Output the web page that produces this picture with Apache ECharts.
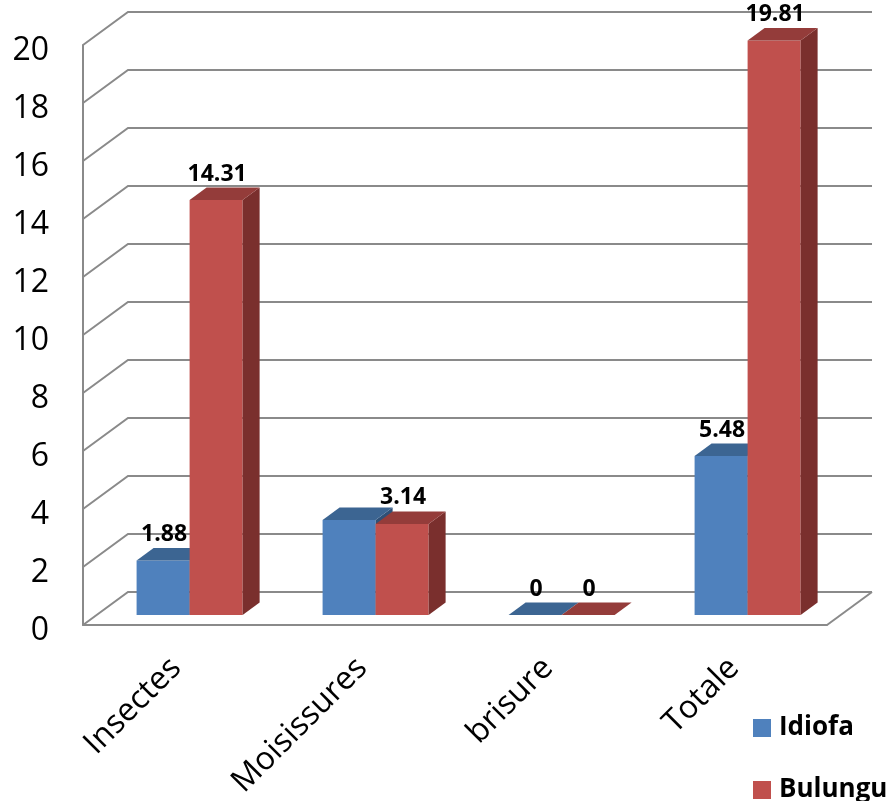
<!DOCTYPE html>
<html>
<head>
<meta charset="utf-8">
<script src="https://cdn.jsdelivr.net/npm/echarts@6/dist/echarts.min.js"></script>
<style>
  html, body { margin: 0; padding: 0; background: #fff; }
  #chart { width: 888px; height: 801px; }
</style>
</head>
<body>
<div id="chart"></div>
<script>
// Categories and values
var categories = ['Insectes', 'Moisissures', 'brisure', 'Totale'];
var seriesNames = ['Idiofa', 'Bulungu'];
var idiofa = [1.88, 3.28, 0, 5.48];
var bulungu = [14.31, 3.14, 0, 19.81];
// Idiofa's Moisissures value carries no printed label
var idiofaHiddenLabels = [1];
var yTicks = [0, 2, 4, 6, 8, 10, 12, 14, 16, 18, 20];

// Perspective of the box: full floor depth and the bars' slot inside it
var DEPTH_X = 45, DEPTH_Y = 33;
var BAR_OFF_X = 13.6, BAR_OFF_Y = 10;
var BAR_DX = 17, BAR_DY = 12.5;
var BAR_FRAC = 0.285;
var GRID_COLOR = '#8a8a8a';

var palettes = [
  { front: '#4f81bd', top: '#3c6592', side: '#2f5077' },
  { front: '#c0504d', top: '#943c3a', side: '#7a2f2d' }
];

function wallRender(params, api) {
  var cs = params.coordSys;
  var v = api.value(1);
  var y = api.coord([0, v])[1];
  var x0 = cs.x, x1 = cs.x + cs.width;
  var children = [{
    type: 'polyline',
    shape: { points: [[x0, y], [x0 + DEPTH_X, y - DEPTH_Y], [x1 + DEPTH_X, y - DEPTH_Y]] },
    style: { stroke: GRID_COLOR, lineWidth: 2, fill: null }
  }];
  if (v === 0) {
    children.push({
      type: 'line',
      shape: { x1: x1, y1: y, x2: x1 + DEPTH_X, y2: y - DEPTH_Y },
      style: { stroke: GRID_COLOR, lineWidth: 2 }
    });
  }
  return { type: 'group', children: children };
}

function makeBarRender(seriesIdx, hidden) {
  var pal = palettes[seriesIdx];
  return function (params, api) {
    var i = api.value(0);
    var v = api.value(1);
    var band = api.size([1, 0])[0];
    var w = band * BAR_FRAC;
    var cx = api.coord([i, 0])[0];
    var x0 = (seriesIdx === 0 ? cx - w : cx) + BAR_OFF_X;
    var yb = api.coord([i, 0])[1] - BAR_OFF_Y;
    var yt = api.coord([i, v])[1] - BAR_OFF_Y;
    var children = [
      {
        type: 'rect',
        shape: { x: x0, y: yt, width: w, height: yb - yt },
        style: { fill: pal.front }
      },
      {
        type: 'polygon',
        shape: { points: [[x0 + w, yt], [x0 + w + BAR_DX, yt - BAR_DY], [x0 + w + BAR_DX, yb - BAR_DY], [x0 + w, yb]] },
        style: { fill: pal.side }
      },
      {
        type: 'polygon',
        shape: { points: [[x0, yt], [x0 + BAR_DX, yt - BAR_DY], [x0 + w + BAR_DX, yt - BAR_DY], [x0 + w, yt]] },
        style: { fill: pal.top }
      }
    ];
    if (hidden.indexOf(i) < 0) {
      children.push({
        type: 'text',
        z2: 100,
        style: {
          x: x0 + w / 2 + 1,
          y: yt - 26,
          text: String(v),
          textAlign: 'center',
          textVerticalAlign: 'middle',
          fill: '#000',
          font: 'bold 23px "Open Sans", sans-serif'
        }
      });
    }
    return { type: 'group', children: children };
  };
}

var legendText = { fontFamily: 'Open Sans', fontWeight: 'bold', fontSize: 26, color: '#000', padding: [0, 0, 0, 3] };

var chart = echarts.init(document.getElementById('chart'), null, { renderer: 'canvas' });
chart.setOption({
  animation: false,
  color: [palettes[0].front, palettes[1].front],
  grid: [
    // front plane of the box
    { left: 83, right: 61, top: 45, bottom: 176, containLabel: false },
    // value labels sit a little below their gridlines
    { left: 83, right: 61, top: 51, bottom: 170, containLabel: false }
  ],
  legend: [
    {
      left: 748, top: 710, itemWidth: 18, itemHeight: 18, icon: 'rect',
      data: [seriesNames[0]], textStyle: legendText
    },
    {
      left: 748, top: 772, itemWidth: 18, itemHeight: 18, icon: 'rect',
      data: [seriesNames[1]], textStyle: legendText
    }
  ],
  xAxis: [
    {
      type: 'category',
      gridIndex: 0,
      data: categories,
      boundaryGap: true,
      axisLine: { lineStyle: { color: GRID_COLOR, width: 2 } },
      axisTick: { show: false },
      axisLabel: { rotate: 45, margin: 38, fontFamily: 'Open Sans', fontSize: 32, color: '#000', interval: 0 },
      splitLine: { show: false }
    },
    {
      type: 'category',
      gridIndex: 1,
      data: categories,
      show: false
    }
  ],
  yAxis: [
    {
      type: 'value',
      gridIndex: 0,
      min: 0,
      max: 20,
      interval: 2,
      axisLine: { show: true, lineStyle: { color: GRID_COLOR, width: 2 } },
      axisTick: { show: false },
      axisLabel: { show: false },
      splitLine: { show: false }
    },
    {
      type: 'value',
      gridIndex: 1,
      min: 0,
      max: 20,
      interval: 2,
      axisLine: { show: false },
      axisTick: { show: false },
      axisLabel: { margin: 34, fontFamily: 'Open Sans', fontSize: 32, color: '#000' },
      splitLine: { show: false }
    }
  ],
  series: [
    {
      type: 'custom',
      name: 'walls',
      z: 1,
      silent: true,
      renderItem: wallRender,
      data: yTicks.map(function (t) { return [0, t]; })
    },
    {
      type: 'custom',
      name: seriesNames[0],
      z: 3,
      itemStyle: { color: palettes[0].front },
      renderItem: makeBarRender(0, idiofaHiddenLabels),
      data: idiofa.map(function (v, i) { return [i, v]; })
    },
    {
      type: 'custom',
      name: seriesNames[1],
      z: 4,
      itemStyle: { color: palettes[1].front },
      renderItem: makeBarRender(1, []),
      data: bulungu.map(function (v, i) { return [i, v]; })
    }
  ]
});
</script>
</body>
</html>
